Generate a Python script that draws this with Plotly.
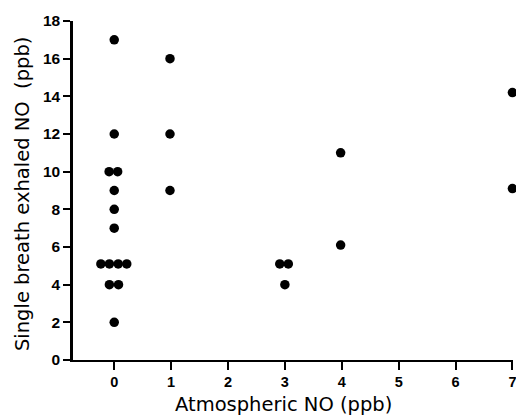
import plotly.graph_objects as go

# Atmospheric NO (ppb) group for each subject
atmospheric_no = [0, 0, 0, 0, 0, 0, 0, 0, 0, 0, 0, 0, 0, 0,
                  1, 1, 1,
                  3, 3, 3,
                  4, 4,
                  7, 7]
# Single breath exhaled NO (ppb)
exhaled_no = [17, 12, 10, 10, 9, 8, 7, 5.1, 5.1, 5.1, 5.1, 4, 4, 2,
              16, 12, 9,
              5.1, 5.1, 4,
              11, 6.1,
              14.2, 9.1]
# horizontal dot-plot spread used so coincident values stay visible
jitter = [0, 0, -0.09, 0.06, 0, 0, 0, -0.235, -0.085, 0.07, 0.22, -0.085, 0.075, 0,
          -0.02, -0.02, -0.02,
          -0.09, 0.06, 0,
          -0.02, -0.02,
          0, 0]

x_ticks = [0, 1, 2, 3, 4, 5, 6, 7]
y_ticks = [0, 2, 4, 6, 8, 10, 12, 14, 16, 18]
x_title = "Atmospheric NO (ppb)"
y_title = "Single breath exhaled NO  (ppb)"

xs = [a + j for a, j in zip(atmospheric_no, jitter)]

fig = go.Figure(go.Scatter(
    x=xs, y=exhaled_no, mode="markers",
    marker=dict(color="black", size=9.5, line=dict(width=0)),
    cliponaxis=False, showlegend=False, hoverinfo="skip",
))

x_tick_font = dict(family="Liberation Sans, Arial, sans-serif", size=14.5, color="black", weight="bold")
y_tick_font = dict(family="Liberation Sans, Arial, sans-serif", size=15.5, color="black", weight="bold")
title_font = dict(family="DejaVu Sans, sans-serif", size=19.5, color="black")

fig.update_layout(
    width=516, height=418,
    margin=dict(l=73, r=3, t=21, b=58, autoexpand=False),
    paper_bgcolor="white", plot_bgcolor="white",
    xaxis=dict(
        range=[-0.725, 7.01], tickvals=x_ticks, ticktext=[str(v) for v in x_ticks],
        showgrid=False, zeroline=False, showline=True, linecolor="black", linewidth=2,
        ticks="outside", ticklen=8, tickwidth=2, tickcolor="black",
        tickfont=x_tick_font, automargin=False, ticklabeloverflow="allow",
    ),
    yaxis=dict(
        range=[0, 18], tickvals=y_ticks, ticktext=[str(v) for v in y_ticks],
        showgrid=False, zeroline=False, showline=True, linecolor="black", linewidth=2.5,
        ticks="outside", ticklen=7, tickwidth=2, tickcolor="black",
        tickfont=y_tick_font, automargin=False, ticklabeloverflow="allow",
    ),
    annotations=[
        dict(text=x_title, xref="paper", yref="paper", x=0.478, y=-0.172,
             xanchor="center", yanchor="bottom", showarrow=False, font=title_font),
        dict(text=y_title, xref="paper", yref="paper", x=-0.1148, y=0.491,
             xanchor="center", yanchor="middle", textangle=-90, showarrow=False,
             font=title_font),
    ],
)

fig.write_html("out.html", config={"displayModeBar": False},
               post_script="document.body.style.margin='0';")
